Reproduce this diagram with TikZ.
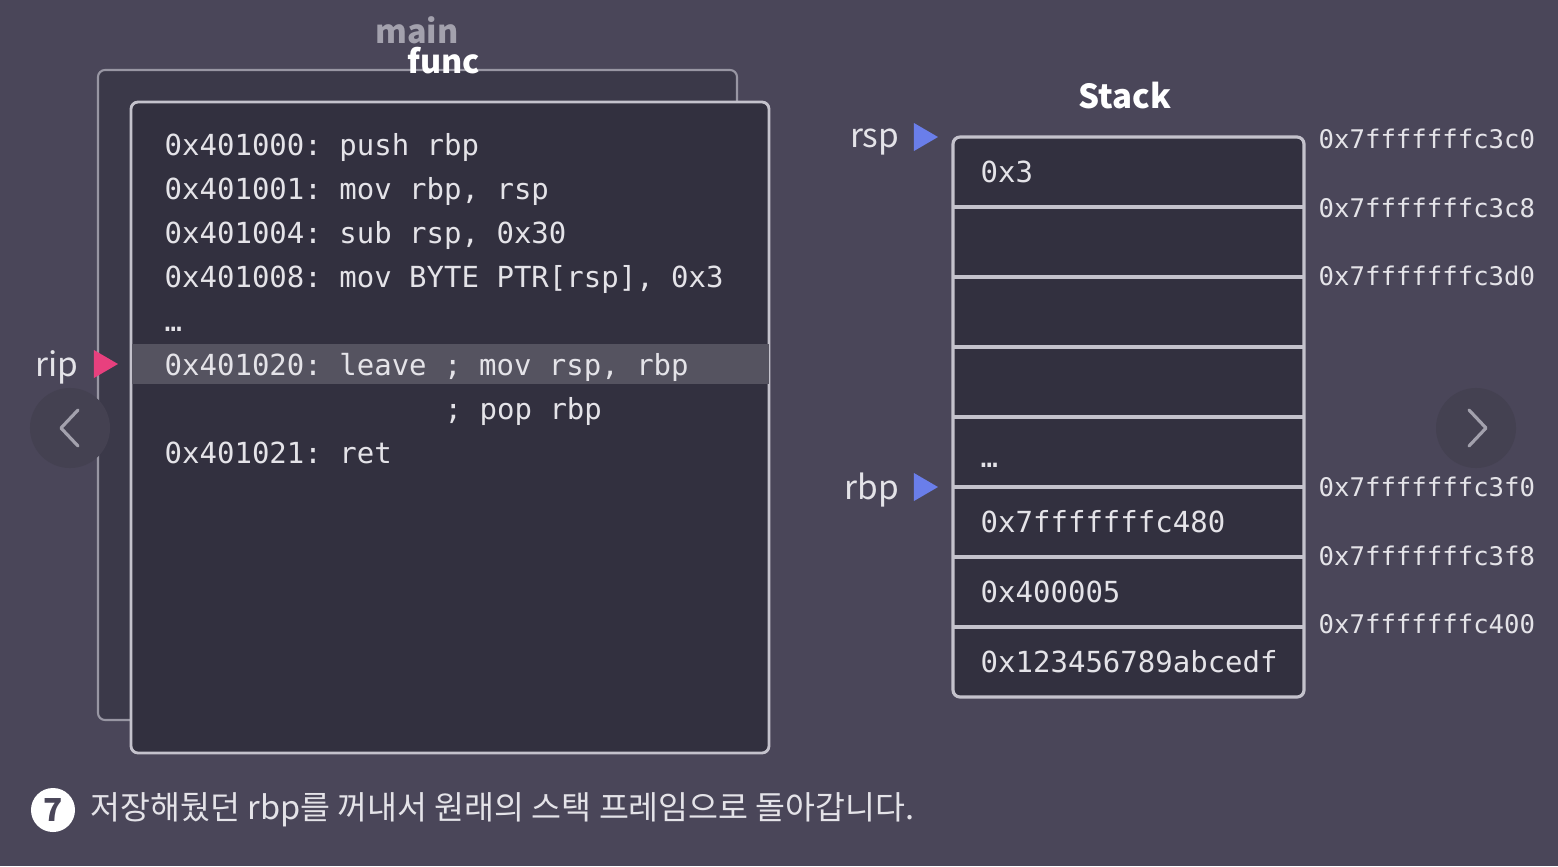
\documentclass[tikz,border=0pt]{standalone}
\usepackage{fontspec}
\setmainfont{Noto Sans CJK KR}
\setmonofont{DejaVu Sans Mono}
\usetikzlibrary{shapes.geometric}

\definecolor{bgcol}{HTML}{4A4659}
\definecolor{panelcol}{HTML}{32303F}
\definecolor{backcol}{HTML}{3B3949}
\definecolor{hlcol}{HTML}{555360}
\definecolor{edgecol}{HTML}{C4C2CC}
\definecolor{backedge}{HTML}{9896A3}
\definecolor{codecol}{HTML}{E4E3E8}
\definecolor{ripcol}{HTML}{E8407E}
\definecolor{ptrcol}{HTML}{6A7EEA}
\definecolor{navcol}{HTML}{444151}
\definecolor{chevcol}{HTML}{A3A1AD}

\begin{document}
\begin{tikzpicture}[x=0.01cm, y=-0.01cm,
    code/.style={anchor=base west, inner sep=0pt, text=codecol, font=\ttfamily\fontsize{8.25}{10}\selectfont},
    addr/.style={anchor=base west, inner sep=0pt, text=codecol, font=\ttfamily\fontsize{7.3}{9}\selectfont},
    reg/.style={anchor=east, inner sep=0pt, text=codecol, font=\fontsize{9.5}{11}\selectfont},
    ptr/.style={isosceles triangle, isosceles triangle stretches, shape border rotate=0,
        minimum width=0.28cm, minimum height=0.24cm, inner sep=0pt, draw=none},
    navbtn/.style={circle, fill=navcol, minimum size=0.8cm, inner sep=0pt},
    chev/.style={draw=chevcol, line width=0.9pt, line cap=round, line join=round}]

    % Background
    \fill[bgcol] (0,0) rectangle (1558,866);
    \useasboundingbox (0,0) rectangle (1558,866);

    % Frames
    \draw[backedge, fill=backcol, line width=0.6pt, rounded corners=2pt] (98,70) rectangle (737,720);
    \draw[edgecol, fill=panelcol, line width=0.8pt, rounded corners=2pt] (131,102) rectangle (769,753);
    \fill[hlcol] (131.5,344) rectangle (768.5,384);

    \node[text=chevcol, font=\bfseries\fontsize{9.2}{11}\selectfont] at (417,30) (mainlbl) {main};
    \node[text=white, font=\bfseries\fontsize{9.2}{11}\selectfont] at (444,61) (funclbl) {func};

    % Code
    \node[code] at (164,155) (c1) {0x401000: push rbp};
    \node[code] at (164,199) (c2) {0x401001: mov rbp, rsp};
    \node[code] at (164,243) (c3) {0x401004: sub rsp, 0x30};
    \node[code] at (164,287) (c4) {0x401008: mov BYTE PTR[rsp], 0x3};
    \node[code] at (164,331) (c5) {…};
    \node[code] at (164,375) (c6) {0x401020: leave ; mov rsp, rbp};
    \node[code] at (444,419) (c7) {; pop rbp};
    \node[code] at (164,463) (c8) {0x401021: ret};

    % Registers
    \node[reg] at (79,367) (rip) {rip};
    \node[ptr, fill=ripcol] at (102,364) (ripptr) {};
    \node[reg] at (900,142) (rsp) {rsp};
    \node[ptr, fill=ptrcol] at (922,137) (rspptr) {};
    \node[reg] at (900,490) (rbp) {rbp};
    \node[ptr, fill=ptrcol] at (922,487) (rbpptr) {};

    % Stack
    \node[text=white, font=\bfseries\fontsize{9.4}{11}\selectfont] at (1125,96) (stacklbl) {Stack};
    \draw[edgecol, fill=panelcol, line width=0.9pt, rounded corners=2pt] (953,137) rectangle (1304,697);
    \foreach \y in {207,277,...,627}
        \draw[edgecol, line width=1pt] (953,\y) -- (1304,\y);

    \node[code] at (980,182) (s1) {0x3};
    \node[code] at (980,467) (s5) {…};
    \node[code] at (980,532) (s6) {0x7fffffffc480};
    \node[code] at (980,602) (s7) {0x400005};
    \node[code] at (980,672) (s8) {0x123456789abcedf};

    \node[addr] at (1318,148) (a1) {0x7fffffffc3c0};
    \node[addr] at (1318,217) (a2) {0x7fffffffc3c8};
    \node[addr] at (1318,285) (a3) {0x7fffffffc3d0};
    \node[addr] at (1318,496) (a4) {0x7fffffffc3f0};
    \node[addr] at (1318,565) (a5) {0x7fffffffc3f8};
    \node[addr] at (1318,633) (a6) {0x7fffffffc400};

    % Navigation
    \node[navbtn] at (70,428) (navl) {};
    \draw[chev] (78,410) -- (61,428) -- (78,446);
    \node[navbtn] at (1476,428) (navr) {};
    \draw[chev] (1469,410) -- (1486,428) -- (1469,446);

    % Caption
    \node[circle, fill=white, minimum size=0.44cm, inner sep=0pt, text=bgcol,
        font=\bfseries\fontsize{9}{11}\selectfont] at (53,810) (step7) {7};
    \node[anchor=west, inner sep=0pt, text=codecol, font=\fontsize{9.25}{11}\selectfont] at (90,810) (caption)
        {저장해뒀던 rbp를 꺼내서 원래의 스택 프레임으로 돌아갑니다.};
\end{tikzpicture}
\end{document}
